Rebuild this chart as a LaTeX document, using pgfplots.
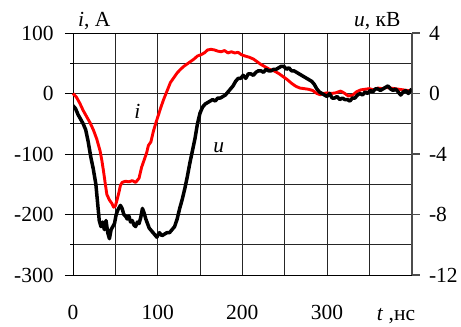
\documentclass[border=0pt]{standalone}
\usepackage{fontspec}
\setmainfont{Liberation Serif}
\usepackage{pgfplots}
\pgfplotsset{compat=1.18}
\pgfplotstableread{
t i
0 0
4 -6
8 -16
12 -28
16 -38
20 -48
24 -60
28 -75
32 -95
34 -110
36 -128
38 -148
40 -167
43 -176
46 -182
48 -188
50 -186
52 -176
54 -165
56 -152
58 -147
62 -145
66 -146
70 -144
74 -147
78 -140
81 -122
84 -110
87 -98
89 -86
92 -80
95 -62
98 -48
101 -35
104 -22
107 -10
111 4
115 18
119 26
123 34
127 40
131 45
135 49
139 53
143 57
147 62
151 64
155 67
159 72
163 73
167 72
171 70
175 69
179 71
183 67
187 69
191 67
195 68
199 64
203 62
208 60
213 57
218 52
222 48
227 44
232 40
238 37
243 33
248 28
253 23
258 17
263 12
268 9
273 8
278 7
283 5
288 0
292 -2
296 0
300 1
305 0
310 1
316 4
320 1
325 -4
330 -3
335 3
340 6
345 7
350 8
355 6
360 9
365 8
370 10
375 9
380 8
385 7
390 6
395 5
400 4
}\curi
\pgfplotstableread{
t u
0 -0.8
3 -1.0
6 -1.4
9 -1.7
12 -2.0
15 -2.4
18 -3.2
21 -4.2
24 -5.0
27 -6.0
29 -7.2
31 -8.4
33 -8.8
35 -8.5
37 -9.0
39 -8.4
41 -9.2
43 -9.6
45 -9.0
47 -8.8
49 -8.6
51 -8.0
53 -7.7
56 -7.4
58 -7.6
60 -8.0
62 -8.1
64 -8.3
66 -8.1
68 -8.5
70 -8.4
72 -8.7
74 -8.8
76 -8.5
78 -8.6
80 -8.2
82 -7.6
84 -7.9
86 -8.3
88 -8.6
90 -8.9
93 -9.1
96 -9.3
99 -9.5
102 -9.2
105 -9.4
108 -9.3
111 -9.2
114 -9.2
117 -9.0
120 -8.8
123 -8.3
126 -7.6
129 -7.0
132 -6.3
135 -5.5
138 -4.6
141 -3.8
144 -3.0
147 -2.0
150 -1.3
153 -0.9
156 -0.7
159 -0.6
162 -0.5
165 -0.4
168 -0.5
171 -0.3
174 -0.3
177 -0.2
180 -0.1
183 0.1
186 0.3
189 0.5
192 0.8
195 1.0
198 1.0
201 1.2
204 1.0
207 1.3
210 1.3
213 1.2
216 1.4
219 1.5
222 1.5
225 1.4
228 1.6
231 1.5
234 1.5
237 1.6
240 1.6
243 1.7
246 1.8
249 1.8
252 1.6
255 1.7
258 1.5
261 1.5
264 1.4
267 1.3
270 1.2
273 1.1
276 1.0
279 0.9
282 0.8
285 0.6
288 0.3
291 0.1
294 0.0
297 -0.1
300 -0.2
303 0.0
306 -0.3
309 -0.3
312 -0.2
315 -0.4
318 -0.3
321 -0.4
324 -0.4
327 -0.5
330 -0.3
333 -0.3
336 -0.1
339 0.0
342 -0.1
345 0.1
348 0.0
351 0.2
354 0.1
357 0.3
360 0.3
363 0.2
366 0.3
369 0.4
372 0.5
375 0.3
378 0.2
381 0.3
384 0.1
387 -0.1
390 0.1
393 0.2
396 0.0
400 0.3
}\volt
\begin{document}
\fontsize{21.5bp}{25bp}\selectfont
\begin{tikzpicture}
\begin{axis}[
  scale only axis, width=338.7bp, height=242bp,
  xmin=0, xmax=400, ymin=-300, ymax=100,
  xtick={0,100,200,300}, minor xtick={50,150,250,350},
  ytick={-300,-200,...,100}, minor ytick={-250,-150,-50,50},
  grid=both,
  major grid style={black!85, line width=0.9bp},
  minor grid style={black!85, line width=0.9bp},
  xtick style={draw=none},
  ytick pos=left, tick align=outside, major tick length=8bp,
  ytick style={black, line width=0.9bp},
  axis line style={black, line width=0.9bp},
  /pgf/number format/assume math mode=true,
  ticklabel style={font=\fontsize{21.5bp}{25bp}\selectfont},
  xticklabel style={yshift=-15bp},
  yticklabel style={xshift=-4bp},
  clip=false,
]
\addplot[red, line width=2.9bp, line join=round] table[x=t, y=i] {\curi};
\coordinate (SW) at (rel axis cs:0,0);
\coordinate (NE) at (rel axis cs:1,1);
\node[anchor=base west, inner sep=0pt] at ([shift={(5bp,6bp)}]rel axis cs:0,1) {\textit{i}, A};
\node[anchor=base east, inner sep=0pt] at ([shift={(-11bp,6bp)}]rel axis cs:1,1) {\textit{u}, кВ};
\node[anchor=base west, inner sep=0pt] at ([shift={(303.7bp,-46bp)}]rel axis cs:0,0) {\textit{t} ,нс};
\node at (axis cs:76,-30) {\textit{i}};
\node at (axis cs:172,-89) {\textit{u}};
\end{axis}
\begin{axis}[
  scale only axis, width=338.7bp, height=242bp,
  xmin=0, xmax=400, ymin=-12, ymax=4,
  axis x line=none, axis y line*=right,
  ytick={-12,-8,-4,0,4},
  tick align=outside, major tick length=8bp,
  ytick style={black!70, line width=1.2bp},
  axis line style={black!70, line width=1.6bp},
  /pgf/number format/assume math mode=true,
  ticklabel style={font=\fontsize{21.5bp}{25bp}\selectfont},
  yticklabel style={xshift=2bp},
]
\addplot[black, line width=3.5bp, line join=round] table[x=t, y=u] {\volt};
\end{axis}
\pgfresetboundingbox
\path[use as bounding box] ([shift={(-73bp,-52bp)}]SW) rectangle ([shift={(49.3bp,33bp)}]NE);
\end{tikzpicture}
\end{document}
